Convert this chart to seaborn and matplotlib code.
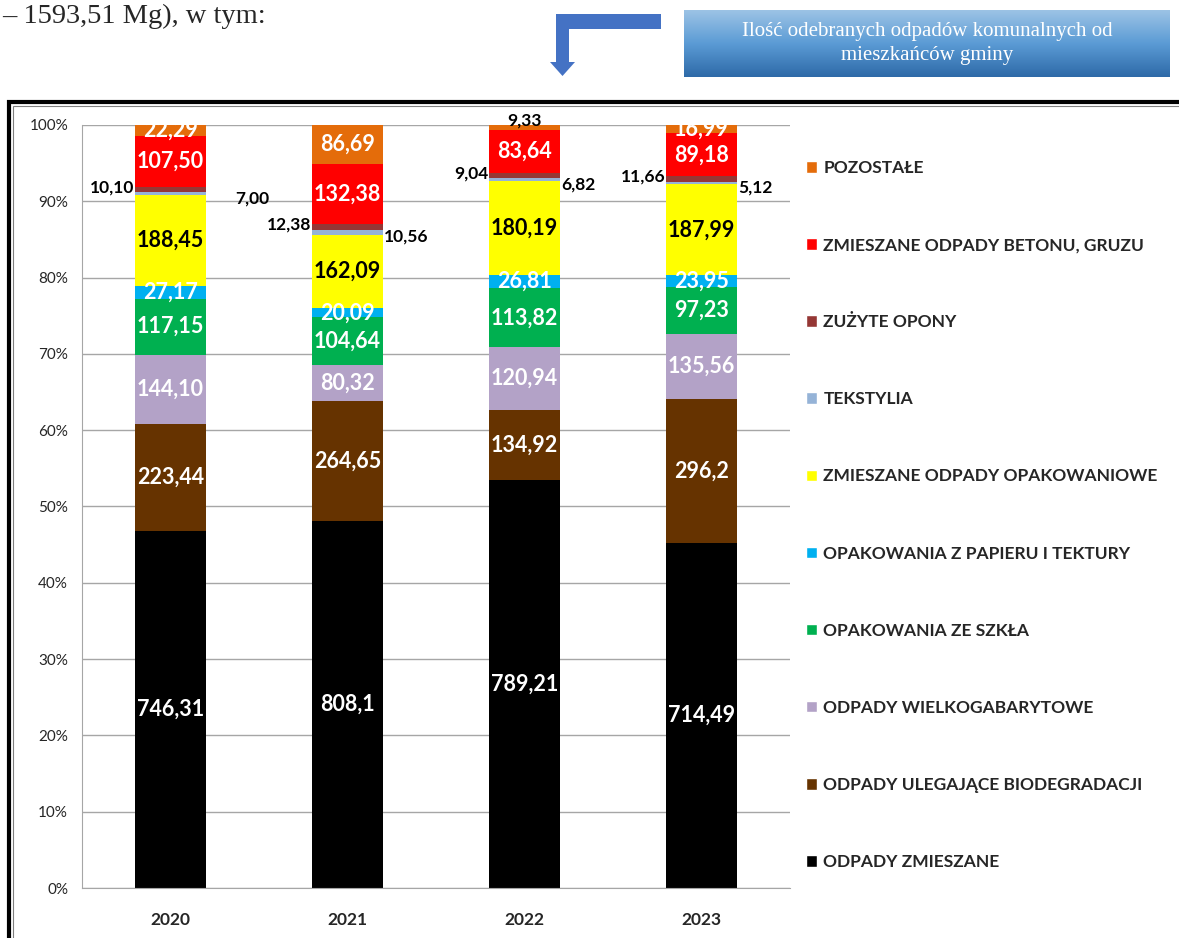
import numpy as np
import pandas as pd
import matplotlib.pyplot as plt
import seaborn as sns
from matplotlib.patches import Patch, Polygon, Rectangle
from matplotlib.colors import LinearSegmentedColormap

# ── DANE (Mg, zapis jak na wykresie) ─────────────────────────
lata = ['2020', '2021', '2022', '2023']

odpady_zmieszane = ['746,31', '808,1', '789,21', '714,49']
biodegradacja = ['223,44', '264,65', '134,92', '296,2']
wielkogabarytowe = ['144,10', '80,32', '120,94', '135,56']
szklo = ['117,15', '104,64', '113,82', '97,23']
papier = ['27,17', '20,09', '26,81', '23,95']
opakowaniowe = ['188,45', '162,09', '180,19', '187,99']
tekstylia = ['7,00', '10,56', '6,82', '5,12']
opony = ['10,10', '12,38', '9,04', '11,66']
gruz = ['107,50', '132,38', '83,64', '89,18']
pozostale = ['22,29', '86,69', '9,33', '16,99']

nazwy = ['ODPADY ZMIESZANE', 'ODPADY ULEGAJĄCE BIODEGRADACJI',
         'ODPADY WIELKOGABARYTOWE', 'OPAKOWANIA ZE SZKŁA',
         'OPAKOWANIA Z PAPIERU I TEKTURY', 'ZMIESZANE ODPADY OPAKOWANIOWE',
         'TEKSTYLIA', 'ZUŻYTE OPONY', 'ZMIESZANE ODPADY BETONU, GRUZU',
         'POZOSTAŁE']
serie = [odpady_zmieszane, biodegradacja, wielkogabarytowe, szklo, papier,
         opakowaniowe, tekstylia, opony, gruz, pozostale]

kolory = ['#000000', '#663300', '#b3a2c7', '#00b050', '#00b0f0',
          '#ffff00', '#95b3d7', '#953735', '#ff0000', '#e46c0a']

# ── TABELA ───────────────────────────────────────────────────
wiersze = []
for k, (nazwa, s) in enumerate(zip(nazwy, serie)):
    for rok, txt in zip(lata, s):
        wiersze.append({'rok': rok, 'kat': nazwa, 'k': k, 'txt': txt,
                        'mg': float(txt.replace(',', '.'))})
df = pd.DataFrame(wiersze)
df['pct'] = df['mg'] / df.groupby('rok')['mg'].transform('sum') * 100
df = df.sort_values(['rok', 'k'])
df['top'] = df.groupby('rok')['pct'].cumsum()
df['bottom'] = df['top'] - df['pct']

# ── RYSUNEK ──────────────────────────────────────────────────
sns.set_style('white')
plt.rcParams['font.family'] = ['Lato', 'DejaVu Sans']

W, H = 1179, 938
fig = plt.figure(figsize=(W / 100, H / 100), dpi=100)


def fx(x):
    return x / W


def fy(y):
    return 1 - y / H


ax = fig.add_axes([fx(82), fy(888), fx(790 - 82), (888 - 125) / H])

# słupki skumulowane – od góry do dołu, każda warstwa przykrywa poprzednią
for k in reversed(range(len(nazwy))):
    sub = df[df['k'] == k]
    sns.barplot(data=sub, x='rok', y='top', order=lata, color=kolory[k],
                saturation=1, width=0.4, errorbar=None, linewidth=0, ax=ax)

ax.set_xlim(-0.5, 3.5)
ax.set_ylim(0, 100)
ax.set_yticks(range(0, 101, 10))
ax.set_yticklabels([f'{v}%' for v in range(0, 101, 10)], fontsize=11,
                   color='#262626')
ax.set_xticks(range(4))
ax.set_xticklabels(lata, fontsize=12.5, fontweight='bold')
ax.set_xticks(np.arange(-0.5, 4, 1), minor=True)
ax.tick_params(axis='x', which='major', length=0, pad=17)
ax.tick_params(axis='x', which='minor', length=6, color='#a6a6a6')
ax.tick_params(axis='y', length=5, color='#a6a6a6', pad=5)
ax.set_xlabel('')
ax.set_ylabel('')
ax.yaxis.grid(True, color='#a6a6a6', lw=1)
ax.set_axisbelow(True)
for s in ['top', 'right']:
    ax.spines[s].set_visible(False)
for s in ['left', 'bottom']:
    ax.spines[s].set_color('#a6a6a6')

# ── ETYKIETY WARTOŚCI ────────────────────────────────────────
szer = 0.4
dx_tekst = [0.16, 0, 0, 0]   # przesunięcie etykiety tekstyliów
for _, r in df.iterrows():
    i = lata.index(r['rok'])
    srodek = (r['top'] + r['bottom']) / 2
    if r['kat'] == 'ZUŻYTE OPONY':
        ax.text(i - szer / 2 - 0.005, srodek + 0.3, r['txt'], ha='right',
                va='center', fontsize=12.5, fontweight='bold', color='black')
    elif r['kat'] == 'TEKSTYLIA':
        ax.text(i + szer / 2 + 0.005 + dx_tekst[i], srodek - 0.6, r['txt'],
                ha='left', va='center', fontsize=12.5, fontweight='bold',
                color='black')
    elif r['pct'] < 1:
        ax.text(i, r['top'] + 0.6, r['txt'], ha='center', va='center',
                fontsize=12.5, fontweight='bold', color='black', clip_on=False)
    else:
        kolor = 'black' if r['kat'] == 'ZMIESZANE ODPADY OPAKOWANIOWE' else 'white'
        ax.text(i, srodek, r['txt'], ha='center', va='center', fontsize=15.5,
                fontweight='bold', color=kolor)

# ── LEGENDA ──────────────────────────────────────────────────
uchwyty = [Patch(facecolor=kolory[k], label=nazwy[k])
           for k in reversed(range(len(nazwy)))]
fig.legend(handles=uchwyty, loc='upper left',
           bbox_to_anchor=(fx(806), fy(160)), frameon=False,
           prop={'family': 'Lato', 'weight': 'bold', 'size': 12.5},
           handlelength=0.65, handleheight=0.65, handletextpad=0.35,
           labelspacing=3.52, borderpad=0, borderaxespad=0)

# ── RAMKA WYKRESU ────────────────────────────────────────────
fig.add_artist(Rectangle((fx(9), fy(H + 20)), fx(W + 20), (H + 20 - 102) / H,
                         transform=fig.transFigure, fill=False,
                         edgecolor='black', lw=3))
fig.add_artist(Rectangle((fx(13), fy(H + 20)), fx(W + 20), (H + 20 - 106) / H,
                         transform=fig.transFigure, fill=False,
                         edgecolor='#7f7f7f', lw=0.8))

# ── NAGŁÓWEK ─────────────────────────────────────────────────
fig.text(fx(2), fy(23), '– 1593,51 Mg), w tym:', ha='left', va='baseline',
         fontsize=20.5, family='Liberation Serif')

strzalka = [(556, 14), (661, 14), (661, 29), (569, 29), (569, 62),
            (575, 62), (562.5, 76), (550, 62), (556, 62)]
fig.add_artist(Polygon([(fx(x), fy(y)) for x, y in strzalka],
                       transform=fig.transFigure, facecolor='#4472c4',
                       edgecolor='none'))

ax_box = fig.add_axes([fx(684), fy(77), fx(1170 - 684), (77 - 10) / H])
gradient = np.linspace(0, 1, 100).reshape(-1, 1)
cmap = LinearSegmentedColormap.from_list('niebieski', ['#9cc3e5', '#5b9bd5', '#2e6aa8'])
ax_box.imshow(gradient, aspect='auto', cmap=cmap, extent=(0, 1, 0, 1), origin='upper')
ax_box.axis('off')
ax_box.text(0.5, 0.5, 'Ilość odebranych odpadów komunalnych od\nmieszkańców gminy',
            ha='center', va='center', color='white', fontsize=15,
            family='Liberation Serif', linespacing=1.3, transform=ax_box.transAxes)

plt.savefig('out.png', dpi=100)
plt.close()
